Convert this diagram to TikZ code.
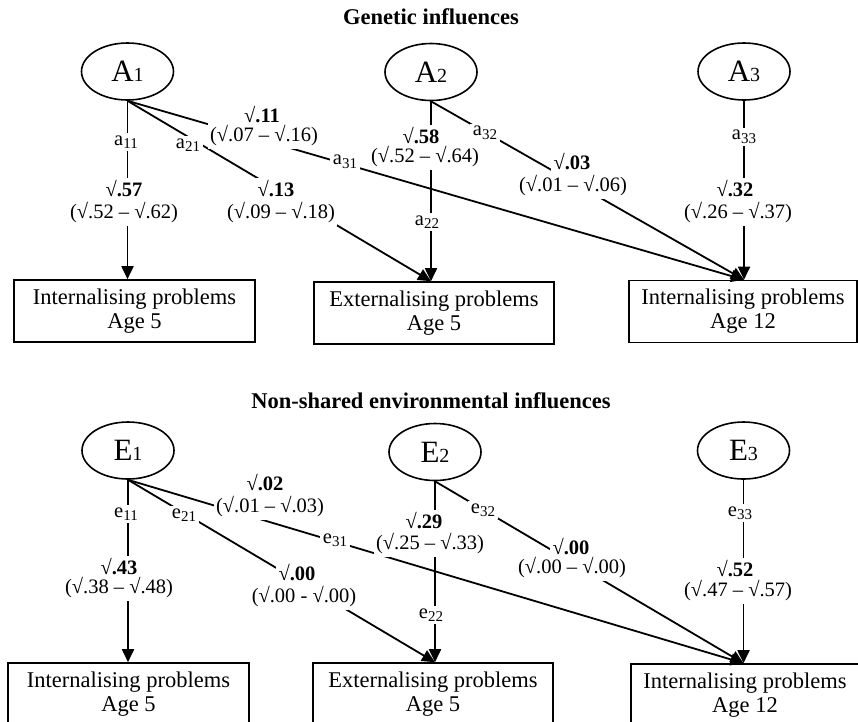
\documentclass[tikz,border=0pt]{standalone}
\usepackage{fontspec}
\setmainfont{Liberation Serif}
\usetikzlibrary{arrows.meta,shapes.geometric}
\newcommand\lblfont{\fontsize{20.5}{22}\selectfont}
\newcommand\mysub[1]{{\fontsize{15}{15}\selectfont\raisebox{-3.5pt}{#1}}}
\newcommand\latname[2]{{\fontsize{31}{31}\selectfont #1}{\fontsize{20}{20}\selectfont #2}}
\begin{document}
\begin{tikzpicture}[x=1pt,y=-1pt,
  latent/.style={ellipse,draw,line width=1.6pt,minimum width=92pt,minimum height=57pt,inner sep=0pt},
  obs/.style={rectangle,draw,line width=1.6pt,align=center,font=\fontsize{22.5}{24}\selectfont,inner sep=0pt,minimum height=62pt},
  conn/.style={line width=1.8pt},
  arr/.style={conn,-{Triangle[length=13pt,width=12pt]}},
  lbl/.style={fill=white,inner sep=2.5pt,font=\lblfont},
  val/.style={fill=white,inner sep=2.5pt,font=\lblfont\bfseries},
  ttl/.style={font=\fontsize{22.5}{24}\selectfont\bfseries}]
\useasboundingbox (0,0) rectangle (858,721);

% ---------- Genetic influences ----------
\node[ttl] (t1) at (431,17) {Genetic influences};
\node[latent] (A1) at (127.5,71.5) {\latname{A}{1}};
\node[latent] (A2) at (431,72) {\latname{A}{2}};
\node[latent] (A3) at (744,71.5) {\latname{A}{3}};
\node[obs,minimum width=241pt] (B1) at (134.5,311) {Internalising problems\\Age 5};
\node[obs,minimum width=240pt] (B2) at (434,313) {Externalising problems\\Age 5};
\node[obs,minimum width=228pt] (B3) at (743,311.5) {Internalising problems\\Age 12};
\coordinate (t1a) at (A1.south |- B1.north);
\coordinate (t2a) at (A2.south |- B2.north);
\coordinate (t3a) at (A3.south |- B3.north);

\draw[arr] (A1.south) -- (t1a);
\draw[arr] (A1.south) -- (t2a);
\draw[arr] (A1.south) -- (t3a);
\draw[arr] (A2.south) -- (t2a);
\draw[arr] (A2.south) -- (t3a);
\draw[arr] (A3.south) -- (t3a);

\node[lbl] (a11) at (126,142) {a\mysub{11}};
\node[val] (v57) at (124,189) {√.57};
\node[lbl] (c57) at (124,213) {(√.52 – √.62)};
\node[lbl] (a21) at (188,145) {a\mysub{21}};
\node[val] (v13) at (276,189) {√.13};
\node[lbl] (c13) at (281,213) {(√.09 – √.18)};
\node[val] (v11) at (262,115) {√.11};
\node[lbl] (c11) at (264,136) {(√.07 – √.16)};
\node[lbl] (a31) at (345,162) {a\mysub{31}};
\node[val] (v58) at (421,136) {√.58};
\node[lbl] (c58) at (425,157) {(√.52 – √.64)};
\node[lbl] (a22) at (427,222) {a\mysub{22}};
\node[lbl] (a32) at (485,133) {a\mysub{32}};
\node[val] (v03) at (572,162) {√.03};
\node[lbl] (c03) at (573,186) {(√.01 – √.06)};
\node[lbl] (a33) at (744,137) {a\mysub{33}};
\node[val] (v32) at (735,189) {√.32};
\node[lbl] (c32) at (738,213) {(√.26 – √.37)};

% ---------- Non-shared environmental influences ----------
\node[ttl] (t2) at (431,401) {Non-shared environmental influences};
\node[latent] (E1) at (128,450.5) {\latname{E}{1}};
\node[latent] (E2) at (435,452) {\latname{E}{2}};
\node[latent] (E3) at (743.5,450.5) {\latname{E}{3}};
\node[obs,minimum width=241pt] (C1) at (128.5,694) {Internalising problems\\Age 5};
\node[obs,minimum width=240pt] (C2) at (433,694) {Externalising problems\\Age 5};
\node[obs,minimum width=228pt] (C3) at (745,695) {Internalising problems\\Age 12};
\coordinate (t1b) at (E1.south |- C1.north);
\coordinate (t2b) at (E2.south |- C2.north);
\coordinate (t3b) at (E3.south |- C3.north);

\draw[arr] (E1.south) -- (t1b);
\draw[arr] (E1.south) -- (t2b);
\draw[arr] (E1.south) -- (t3b);
\draw[arr] (E2.south) -- (t2b);
\draw[arr] (E2.south) -- (t3b);
\draw[arr] (E3.south) -- (t3b);

\node[lbl] (e11) at (126,514) {e\mysub{11}};
\node[val] (v43) at (119,567) {√.43};
\node[lbl] (c43) at (119,588) {(√.38 – √.48)};
\node[lbl] (e21) at (184,515) {e\mysub{21}};
\node[val] (v00a) at (297,573) {√.00};
\node[lbl] (c00a) at (304,597) {(√.00 - √.00)};
\node[val] (v02) at (265,483) {√.02};
\node[lbl] (c02) at (270,507) {(√.01 – √.03)};
\node[lbl] (e31) at (335,540) {e\mysub{31}};
\node[val] (v29) at (424,521) {√.29};
\node[lbl] (c29) at (430,544) {(√.25 – √.33)};
\node[lbl] (e22) at (431,615) {e\mysub{22}};
\node[lbl] (e32) at (483,510) {e\mysub{32}};
\node[val] (v00b) at (571,547) {√.00};
\node[lbl] (c00b) at (572,568) {(√.00 – √.00)};
\node[lbl] (e33) at (740,513) {e\mysub{33}};
\node[val] (v52) at (735,569) {√.52};
\node[lbl] (c52) at (738,591) {(√.47 – √.57)};
\end{tikzpicture}
\end{document}
